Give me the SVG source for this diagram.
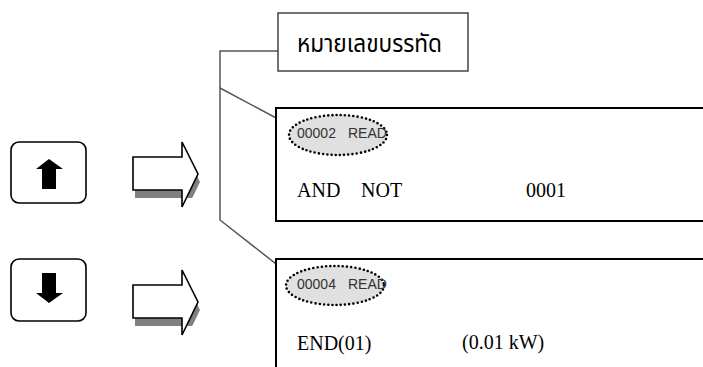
<svg xmlns="http://www.w3.org/2000/svg" width="703" height="367" viewBox="0 0 703 367">
  <style>
    .key { fill: #fff; stroke: #000; stroke-width: 1.6; }
    .glyph { fill: #000; }
    .barrow { fill: #fff; stroke: #000; stroke-width: 1.6; stroke-linejoin: miter; }
    .shadow { fill: #808080; }
    .screen { fill: #fff; stroke: #000; stroke-width: 2; }
    .tag { fill: #e0e0e0; stroke: #000; stroke-width: 2.6; stroke-dasharray: 0 4.2; stroke-linecap: round; }
    .label { fill: #fff; stroke: #444; stroke-width: 1.5; }
    .conn { fill: none; stroke: #555; stroke-width: 1.5; }
    .sans { font-family: "Liberation Sans", Arial, sans-serif; font-size: 14px; fill: #333; }
    .serif { font-family: "Liberation Serif", "Times New Roman", serif; font-size: 20px; fill: #000; }
    .thai { font-family: "Noto Sans Thai", "Noto Sans", "DejaVu Sans", sans-serif; font-size: 24px; fill: #000; }
  </style>
  <defs>
    <polygon id="block-arrow" points="133,157 182,157 182,142 198,174 182,207 182,190 133,190"/>
    <clipPath id="shadow-clip-up"><rect x="0" y="0" width="703" height="198"/></clipPath>
    <clipPath id="shadow-clip-down"><rect x="0" y="0" width="703" height="326"/></clipPath>
  </defs>

  <!-- connectors from the line-number label -->
  <g id="connectors">
    <polyline class="conn" points="278,51 220,51 220,220 294,278"/>
    <line class="conn" x1="220" y1="88" x2="293" y2="127"/>
  </g>

  <!-- up key -->
  <g id="key-up">
    <rect class="key" x="11" y="142" width="75" height="61" rx="8"/>
    <polygon class="glyph" points="49,159 63,169 56,169 56,189 42,189 42,169 36,169"/>
  </g>

  <!-- down key -->
  <g id="key-down">
    <rect class="key" x="11" y="259" width="75" height="62" rx="8"/>
    <polygon class="glyph" points="42,273 56,273 56,293 63,293 49,303 36,293 42,293"/>
  </g>

  <!-- block arrow, upper -->
  <g id="arrow-up">
    <g clip-path="url(#shadow-clip-up)">
      <use href="#block-arrow" class="shadow" transform="translate(2,8)"/>
    </g>
    <use href="#block-arrow" class="barrow"/>
  </g>

  <!-- block arrow, lower -->
  <g id="arrow-down">
    <g clip-path="url(#shadow-clip-down)">
      <use href="#block-arrow" class="shadow" transform="translate(2,136)"/>
    </g>
    <use href="#block-arrow" class="barrow" transform="translate(0,128)"/>
  </g>

  <!-- line-number label -->
  <g id="label">
    <rect class="label" x="278" y="13" width="190" height="58"/>
    <text class="thai" x="297" y="52" textLength="145" lengthAdjust="spacingAndGlyphs">หมายเลขบรรทัด</text>
  </g>

  <!-- upper screen -->
  <g id="screen-1">
    <rect class="screen" x="276" y="108" width="440" height="113"/>
    <ellipse class="tag" cx="338" cy="135" rx="49" ry="20"/>
    <text class="sans" x="297" y="138">00002</text>
    <text class="sans" x="348" y="138">READ</text>
    <text class="serif" x="297" y="197">AND</text>
    <text class="serif" x="361" y="197">NOT</text>
    <text class="serif" x="526" y="197">0001</text>
  </g>

  <!-- lower screen -->
  <g id="screen-2">
    <rect class="screen" x="276" y="259" width="440" height="120"/>
    <ellipse class="tag" cx="335" cy="285.5" rx="49" ry="19.5"/>
    <text class="sans" x="297" y="289">00004</text>
    <text class="sans" x="348" y="289">READ</text>
    <text class="serif" x="297" y="350">END(01)</text>
    <text class="serif" x="462" y="349">(0.01 kW)</text>
  </g>
</svg>
